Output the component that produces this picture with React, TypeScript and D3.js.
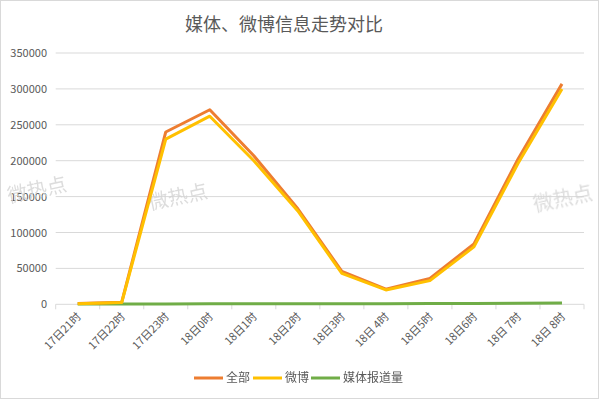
import React from "react";
import * as d3 from "d3";

const categories = ["17日21时", "17日22时", "17日23时", "18日0时", "18日1时", "18日2时", "18日3时", "18日 4时", "18日5时", "18日6时", "18日 7时", "18日 8时"];
const allValues = [1000, 3000, 240000, 271000, 207000, 133000, 46000, 21000, 36000, 84000, 202000, 307000];
const weiboValues = [800, 2500, 230000, 262000, 200000, 130000, 43000, 20000, 33000, 80000, 196000, 300000];
const mediaValues = [300, 400, 500, 600, 700, 700, 800, 900, 1000, 1200, 1500, 1800];
const yTicks = [0, 50000, 100000, 150000, 200000, 250000, 300000, 350000];
const seriesNames = ["全部", "微博", "媒体报道量"];
const seriesColors = ["#ED7D31", "#FFC000", "#70AD47"];

const W = 599, H = 399;
const left = 55.7, right = 584, top = 53, bottom = 304.3;
const font = "'Microsoft YaHei', 'Noto Sans CJK SC', sans-serif";

export default function App() {
  const x = d3.scaleBand<string>().domain(categories).range([left, right]).padding(0);
  const y = d3.scaleLinear().domain([0, 350000]).range([bottom, top]);
  const line = d3.line<number>().x((_, i) => (x(categories[i]) as number) + x.bandwidth() / 2).y(d => y(d));
  const series = [allValues, weiboValues, mediaValues];
  const drawOrder = [2, 0, 1];
  const legendX = [194, 253, 311];
  const boundaries = categories.map(c => x(c) as number).concat([right]);
  return (
    <svg width={W} height={H} style={{ position: "absolute", left: 0, top: 0, background: "#fff" }} fontFamily={font}>
      <rect x={0.5} y={0.5} width={W - 1} height={H - 1} fill="#fff" stroke="#d9d9d9" />
      <text x={284} y={31} textAnchor="middle" fontSize={18} fill="#595959">媒体、微博信息走势对比</text>
      {yTicks.map(t => (
        <g key={t}>
          {t > 0 && <line x1={left} x2={right} y1={y(t)} y2={y(t)} stroke="#d9d9d9" strokeWidth={1} />}
          <text x={47} y={y(t) + 4} textAnchor="end" fontSize={11} fill="#595959">{t}</text>
        </g>
      ))}
      <line x1={left} x2={right} y1={bottom} y2={bottom} stroke="#d9d9d9" />
      {boundaries.map((b, i) => (
        <line key={i} x1={b} x2={b} y1={bottom} y2={bottom + 5} stroke="#d9d9d9" />
      ))}
      {categories.map(c => {
        const cx = (x(c) as number) + x.bandwidth() / 2;
        return (
          <text key={c} transform={`translate(${cx + 4},${bottom + 13}) rotate(-45)`} textAnchor="end" fontSize={11} fill="#595959">{c}</text>
        );
      })}
      <g fill="#d4d4d4" fontSize={20} opacity={0.8}>
        <text transform="translate(9,203) rotate(-12)">微热点</text>
        <text transform="translate(150,210) rotate(-12)">微热点</text>
        <text transform="translate(535,212) rotate(-12)">微热点</text>
      </g>
      {drawOrder.map(i => (
        <path key={i} d={line(series[i]) as string} fill="none" stroke={seriesColors[i]} strokeWidth={3} strokeLinejoin="round" />
      ))}
      {seriesNames.map((n, i) => (
        <g key={n}>
          <line x1={legendX[i]} x2={legendX[i] + 29} y1={378} y2={378} stroke={seriesColors[i]} strokeWidth={3} />
          <text x={legendX[i] + 32} y={382} fontSize={12} fill="#595959">{n}</text>
        </g>
      ))}
    </svg>
  );
}
